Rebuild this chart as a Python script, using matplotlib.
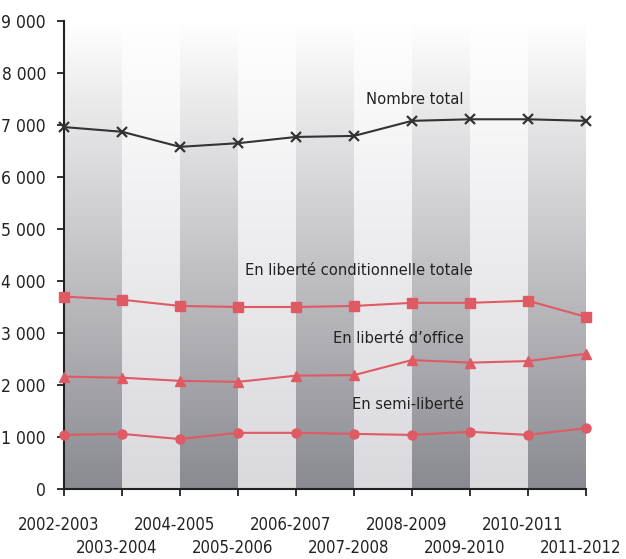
import numpy as np
import matplotlib
matplotlib.use("Agg")
import matplotlib.pyplot as plt
from matplotlib import font_manager

# données
periodes = ["2002-2003", "2003-2004", "2004-2005", "2005-2006", "2006-2007",
            "2007-2008", "2008-2009", "2009-2010", "2010-2011", "2011-2012"]
nombre_total = [6960, 6870, 6580, 6650, 6770, 6790, 7080, 7110, 7110, 7080]
conditionnelle = [3700, 3640, 3520, 3500, 3500, 3520, 3580, 3580, 3620, 3310]
office = [2160, 2140, 2080, 2060, 2180, 2190, 2480, 2430, 2460, 2600]
semi_liberte = [1040, 1060, 960, 1080, 1080, 1060, 1040, 1100, 1040, 1170]
yticks = [0, 1000, 2000, 3000, 4000, 5000, 6000, 7000, 8000, 9000]
ytick_labels = ["0", "1 000", "2 000", "3 000", "4 000", "5 000",
                "6 000", "7 000", "8 000", "9 000"]

# police étroite si disponible
noms = {f.name for f in font_manager.fontManager.ttflist}
condense = [f for f in font_manager.fontManager.ttflist
            if f.name == "DejaVu Sans" and f.stretch == "condensed"]
if "Liberation Sans Narrow" in noms:
    plt.rcParams["font.family"] = ["Liberation Sans Narrow", "DejaVu Sans"]
    fs_y, fs_x, fs_lab = 14, 13.5, 13.3
elif condense:
    plt.rcParams["font.family"] = ["DejaVu Sans"]
    plt.rcParams["font.stretch"] = "condensed"
    fs_y, fs_x, fs_lab = 12.5, 12, 11.8
else:
    plt.rcParams["font.family"] = ["Roboto", "DejaVu Sans"]
    fs_y, fs_x, fs_lab = 12, 11.5, 11.5

RED = "#e05a63"
TXT = "#222222"

fig = plt.figure(figsize=(6.26, 5.59), dpi=100)
ax = fig.add_axes([64 / 626, 1 - 489 / 559, (586 - 64) / 626, (489 - 21) / 559])

# fond en bandes verticales dégradées (blanc en haut, gris en bas)
n = len(periodes)
ny = 300
t = np.linspace(1, 0, ny)[:, None]  # ligne 0 = bas
bas_fonce = np.array([0.54, 0.54, 0.57])
bas_clair = np.array([0.85, 0.85, 0.87])
img = np.ones((ny, n - 1, 3))
for i in range(n - 1):
    bas = bas_fonce if i % 2 == 0 else bas_clair
    img[:, i, :] = 1 - t * (1 - bas)
ax.imshow(img, extent=(0, n - 1, 0, 9000), aspect="auto", origin="lower",
          interpolation="nearest", zorder=0)

x = np.arange(n)
ax.plot(x, nombre_total, color="#333333", lw=1.5, marker="x", ms=7, mew=1.6,
        clip_on=False, zorder=3)
ax.plot(x, conditionnelle, color=RED, lw=1.5, marker="s", ms=6.5,
        clip_on=False, zorder=3)
ax.plot(x, office, color=RED, lw=1.5, marker="^", ms=6.5,
        clip_on=False, zorder=3)
ax.plot(x, semi_liberte, color=RED, lw=1.5, marker="o", ms=6.5,
        clip_on=False, zorder=3)

ax.text(6.88, 7350, "Nombre total", ha="right", va="bottom", fontsize=fs_lab, color=TXT)
ax.text(7.05, 4050, "En liberté conditionnelle totale", ha="right", va="bottom",
        fontsize=fs_lab, color=TXT)
ax.text(6.9, 2750, "En liberté d\u2019office", ha="right", va="bottom",
        fontsize=fs_lab, color=TXT)
ax.text(6.9, 1480, "En semi-liberté", ha="right", va="bottom",
        fontsize=fs_lab, color=TXT)

ax.set_xlim(0, n - 1)
ax.set_ylim(0, 9000)
ax.set_yticks(yticks)
ax.set_yticklabels(ytick_labels, fontsize=fs_y, color=TXT)
ax.set_xticks(x)
ax.set_xticklabels([])
# étiquettes en quinconce, légèrement décalées à gauche
for i, lab in enumerate(periodes):
    yoff = -0.077 if i % 2 == 0 else -0.126
    ax.text(i - 0.09, yoff, lab, transform=ax.get_xaxis_transform(), ha="center",
            va="center", fontsize=fs_x, color=TXT)

ax.spines["top"].set_visible(False)
ax.spines["right"].set_visible(False)
for s in ("left", "bottom"):
    ax.spines[s].set_linewidth(1.5)
    ax.spines[s].set_color("#222222")
ax.tick_params(axis="both", direction="out", length=5, width=1.3, color="#222222")
ax.tick_params(axis="y", pad=8)

fig.savefig("out.png", dpi=100, facecolor="white")
